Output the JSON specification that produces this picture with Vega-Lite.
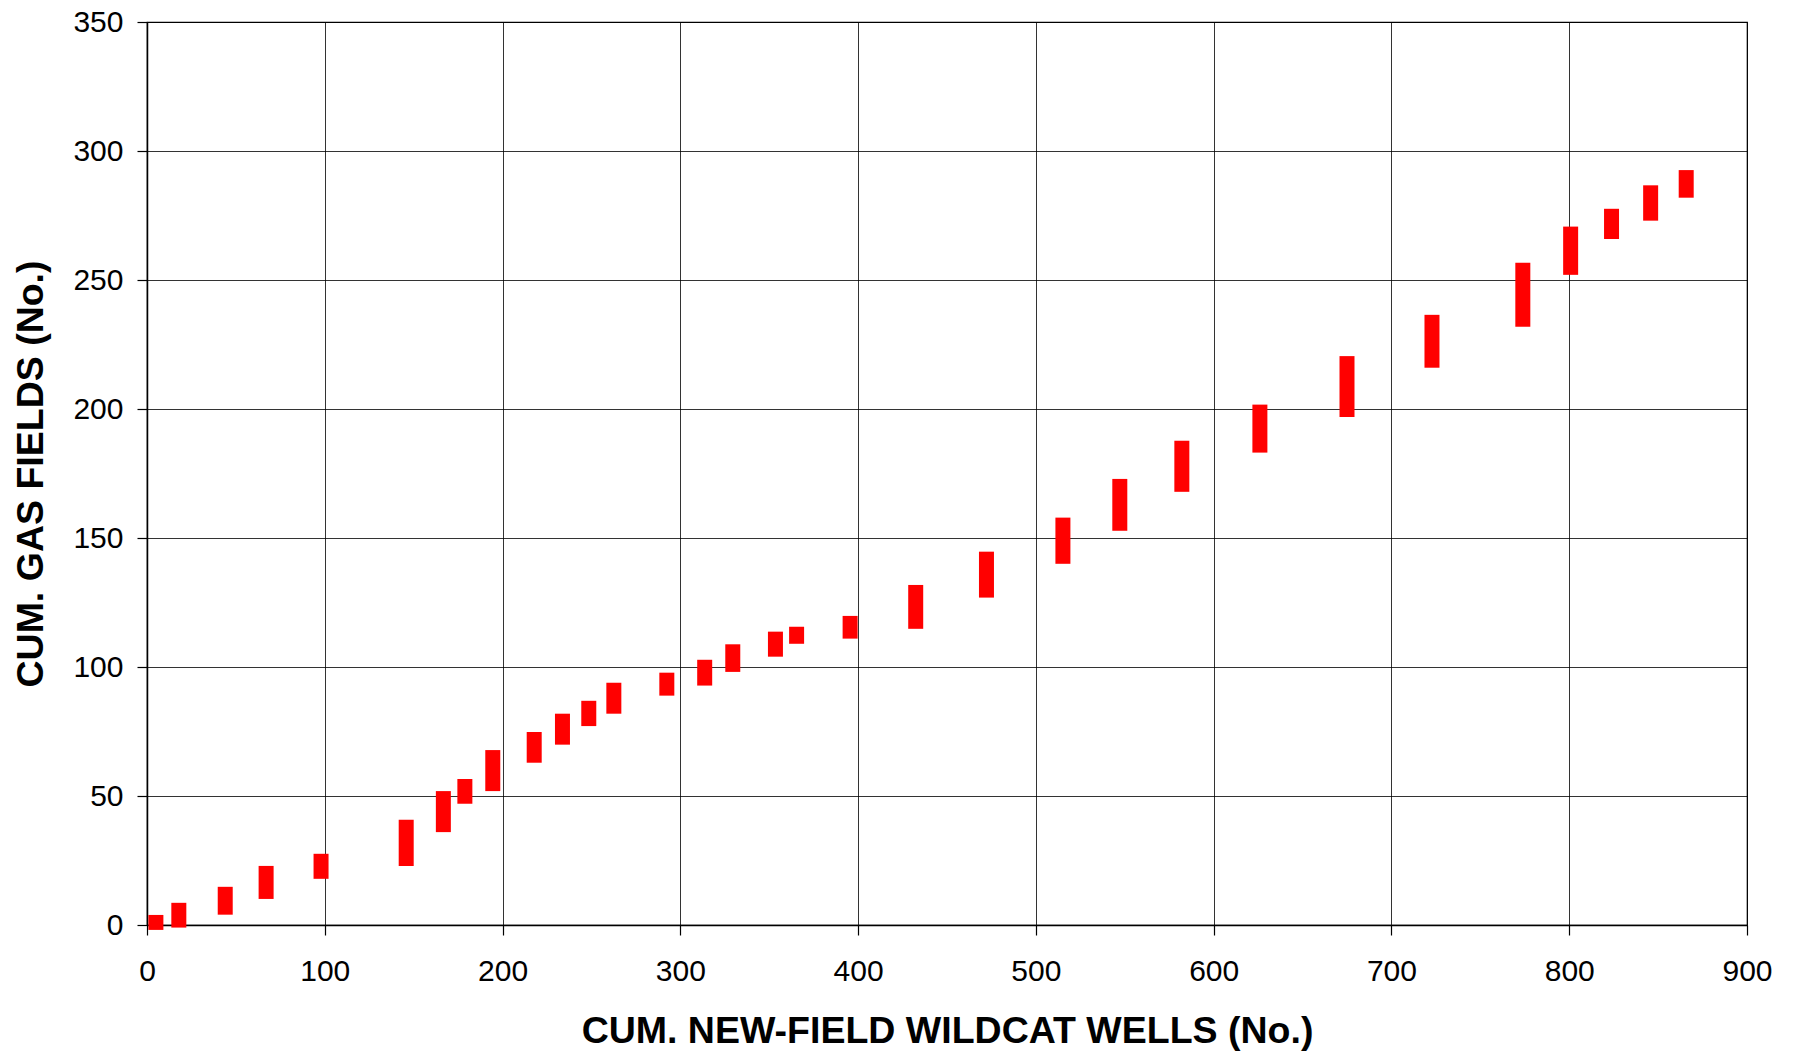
{
  "$schema": "https://vega.github.io/schema/vega-lite/v6.json",
  "autosize": {"type": "none"},
  "width": 1600,
  "height": 903,
  "padding": {"left": 147, "top": 22, "right": 48, "bottom": 127},
  "background": "white",
  "config": {
    "view": {"stroke": "#000", "strokeWidth": 1.2},
    "font": "Liberation Sans"
  },
  "data": {
    "values": [
      {"wells": 5, "low": -1.9, "high": 3.9},
      {"wells": 17.9, "low": -1.0, "high": 8.6},
      {"wells": 44, "low": 4.0, "high": 14.8},
      {"wells": 67, "low": 10.1, "high": 22.9},
      {"wells": 97.9, "low": 17.9, "high": 27.6},
      {"wells": 145.8, "low": 22.9, "high": 40.8},
      {"wells": 166.7, "low": 36.0, "high": 51.9},
      {"wells": 178.8, "low": 47.0, "high": 56.6},
      {"wells": 194.5, "low": 51.9, "high": 67.8},
      {"wells": 217.8, "low": 62.9, "high": 74.8},
      {"wells": 233.7, "low": 69.9, "high": 81.9},
      {"wells": 248.5, "low": 77.1, "high": 86.9},
      {"wells": 262.6, "low": 81.9, "high": 93.9},
      {"wells": 292.4, "low": 88.9, "high": 97.8},
      {"wells": 313.7, "low": 92.8, "high": 102.8},
      {"wells": 329.5, "low": 98.1, "high": 108.8},
      {"wells": 353.5, "low": 104.0, "high": 113.7},
      {"wells": 365.4, "low": 109.0, "high": 115.6},
      {"wells": 395.5, "low": 111.0, "high": 119.8},
      {"wells": 432.4, "low": 114.8, "high": 131.8},
      {"wells": 472.2, "low": 126.9, "high": 144.7},
      {"wells": 515.2, "low": 140.0, "high": 157.9},
      {"wells": 547.2, "low": 152.8, "high": 172.9},
      {"wells": 582.1, "low": 167.9, "high": 187.7},
      {"wells": 626.0, "low": 183.1, "high": 201.7},
      {"wells": 675.0, "low": 196.9, "high": 220.5},
      {"wells": 722.8, "low": 216.0, "high": 236.5},
      {"wells": 773.9, "low": 231.9, "high": 256.7},
      {"wells": 800.8, "low": 252.0, "high": 270.7},
      {"wells": 823.8, "low": 265.9, "high": 277.6},
      {"wells": 845.8, "low": 273.0, "high": 286.7},
      {"wells": 865.8, "low": 281.9, "high": 292.6}
    ]
  },
  "mark": {"type": "bar", "color": "#FF0000", "size": 15},
  "encoding": {
    "x": {
      "field": "wells",
      "type": "quantitative",
      "scale": {"domain": [0, 900], "nice": false, "zero": false, "padding": 0},
      "axis": {
        "title": "CUM. NEW-FIELD WILDCAT WELLS (No.)",
        "values": [0, 100, 200, 300, 400, 500, 600, 700, 800, 900],
        "grid": true,
        "gridColor": "#000",
        "gridOpacity": 0.8,
        "gridWidth": 1,
        "domainColor": "#000",
        "domainWidth": 1.5,
        "tickColor": "#000",
        "tickSize": 10,
        "tickWidth": 1.2,
        "labelFlush": false,
        "labelOverlap": false,
        "labelFontSize": 30,
        "labelColor": "#000",
        "labelPadding": 21,
        "labelFont": "Liberation Sans",
        "titleFont": "Liberation Sans",
        "titleFontSize": 37.5,
        "titleFontWeight": "bold",
        "titleColor": "#000",
        "titlePadding": 26
      }
    },
    "y": {
      "field": "low",
      "type": "quantitative",
      "scale": {"domain": [0, 350], "nice": false, "zero": false, "padding": 0},
      "axis": {
        "title": "CUM. GAS FIELDS (No.)",
        "values": [0, 50, 100, 150, 200, 250, 300, 350],
        "grid": true,
        "gridColor": "#000",
        "gridOpacity": 0.8,
        "gridWidth": 1,
        "domainColor": "#000",
        "domainWidth": 1.5,
        "tickColor": "#000",
        "tickSize": 10,
        "tickWidth": 1.2,
        "labelFlush": false,
        "labelOverlap": false,
        "labelFontSize": 30,
        "labelColor": "#000",
        "labelPadding": 14,
        "labelFont": "Liberation Sans",
        "titleFont": "Liberation Sans",
        "titleFontSize": 37.5,
        "titleFontWeight": "bold",
        "titleColor": "#000",
        "titlePadding": 22
      }
    },
    "y2": {"field": "high"}
  }
}
